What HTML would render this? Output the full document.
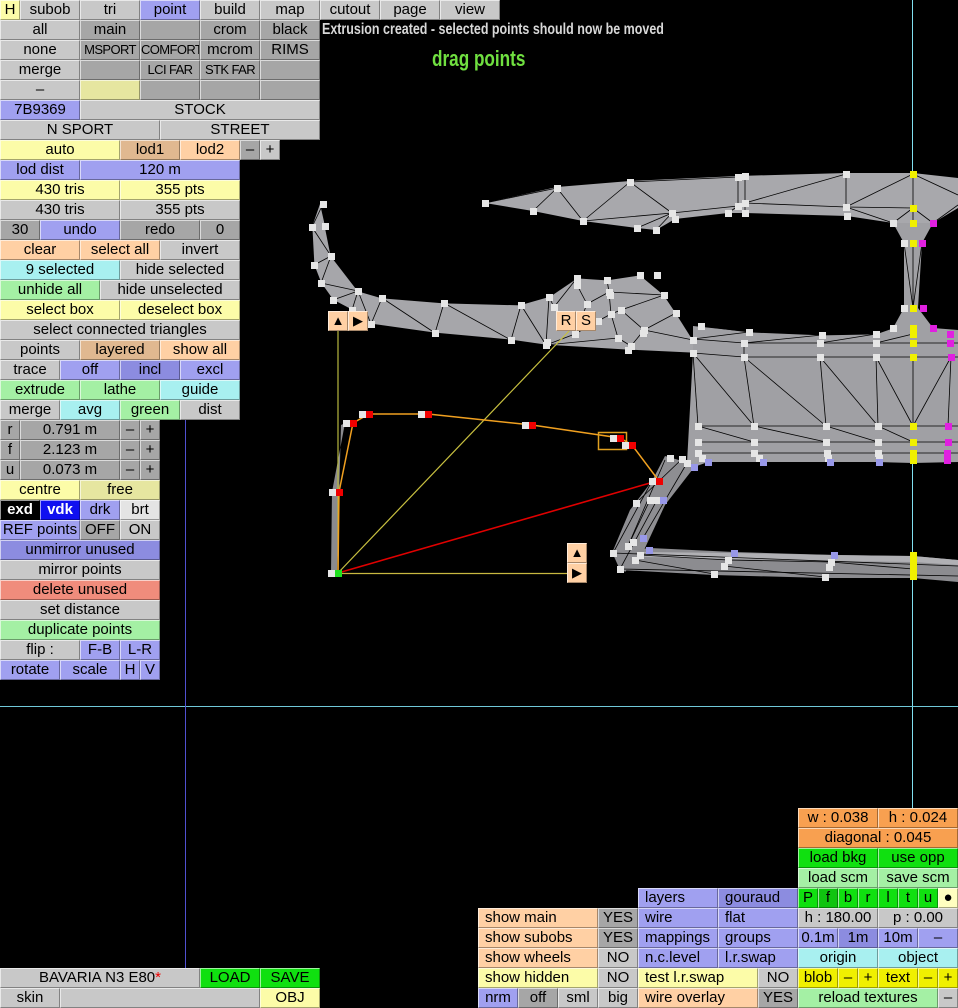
<!DOCTYPE html>
<html><head><meta charset="utf-8">
<style>
html,body{margin:0;padding:0;background:#000;}
body{width:958px;height:1008px;position:relative;overflow:hidden;font-family:"Liberation Sans",sans-serif;}
.b{position:absolute;height:20px;line-height:18px;text-align:center;box-sizing:border-box;border-top:1px solid rgba(255,255,255,.6);border-left:1px solid rgba(255,255,255,.6);border-right:1px solid rgba(0,0,0,.35);border-bottom:1px solid rgba(0,0,0,.35);font-size:15px;color:#000;white-space:nowrap;overflow:hidden;}
.n{font-size:13px;letter-spacing:-0.6px;}
.l{text-align:left;padding-left:6px;}
.g{background:#c8c8c8}.d{background:#a6a6a6}.u{background:#a0a0f0}.u2{background:#8c8ce0}
.y{background:#fcfca8}.y2{background:#e6e6a0}.p{background:#ffd0a4}.p2{background:#e0b890}
.gr{background:#a4f0a4}.c{background:#a8f0f0}.s{background:#f08c7c}.bg{background:#10e010}.bg2{background:#10c410}
.o{background:#f8a050}.by{background:#f0f000}.w{background:#e4e4e4}
svg{position:absolute;left:0;top:0}
</style></head><body>
<svg width="958" height="1008" viewBox="0 0 958 1008">
<line x1="912.5" y1="0" x2="912.5" y2="808" stroke="#80e0f0" stroke-width="1"/>
<line x1="0" y1="706.5" x2="958" y2="706.5" stroke="#70c8d8" stroke-width="1"/>
<line x1="185.5" y1="420" x2="185.5" y2="968" stroke="#5050d0" stroke-width="1"/>
<!-- top strip -->
<polygon fill="#a8a8ac" points="485,203 557,187 630,181 738,176 846,173 913,173 958,178 958,208 933,223 913,223 893,223 847,216 745,213 728,213 675,219 656,230 637,228 583,221 533,211"/>
<g stroke="#000" stroke-width="0.8" fill="none">
<line x1="485" y1="203" x2="557" y2="188"/><line x1="557" y1="188" x2="533" y2="211"/><line x1="557" y1="188" x2="583" y2="221"/>
<line x1="583" y1="221" x2="630" y2="182"/><line x1="630" y1="182" x2="672" y2="213"/><line x1="630" y1="182" x2="738" y2="177"/>
<line x1="672" y1="213" x2="738" y2="206"/><line x1="672" y1="213" x2="637" y2="228"/><line x1="672" y1="213" x2="656" y2="230"/>
<line x1="672" y1="213" x2="583" y2="221"/><line x1="738" y1="177" x2="738" y2="206"/><line x1="745" y1="176" x2="745" y2="213"/>
<line x1="745" y1="203" x2="846" y2="174"/><line x1="745" y1="203" x2="846" y2="207"/><line x1="846" y1="174" x2="846" y2="207"/>
<line x1="846" y1="207" x2="913" y2="174"/><line x1="846" y1="207" x2="913" y2="208"/><line x1="913" y1="174" x2="913" y2="243"/>
<line x1="913" y1="174" x2="958" y2="195"/><line x1="913" y1="208" x2="893" y2="223"/><line x1="913" y1="208" x2="933" y2="223"/>
<line x1="846" y1="207" x2="893" y2="223"/><line x1="738" y1="206" x2="728" y2="213"/><line x1="933" y1="223" x2="958" y2="205"/>
</g>
<!-- pillar -->
<polygon fill="#a0a0a4" points="893,223 933,223 922,243 918,308 933,328 893,328 904,308 904,243"/>
<g stroke="#000" stroke-width="0.8"><line x1="913" y1="243" x2="913" y2="308"/><line x1="904" y1="243" x2="913" y2="308"/><line x1="922" y1="243" x2="913" y2="308"/></g>
<!-- middle strip -->
<polygon fill="#a6a6aa" points="320,204 325,226 331,256 358,291 382,298 444,303 521,305 549,297 577,278 607,280 640,275 664,295 676,313 693,340 693,353 628,350 546,345 511,340 435,333 371,324 352,310 333,300 321,283 314,265 312,227"/>
<!-- block -->
<polygon fill="#a0a0a4" points="693,326 749,332 822,335 876,334 893,328 933,328 958,330 958,462 913,463 878,462 830,462 763,462 708,462 694,467 687,463 693,353"/>
<!-- connector -->
<polygon fill="#8e8e92" points="665,456 696,465 665,505 645,548 625,572 612,553 630,510 652,481"/>
<!-- lower strip -->
<polygon fill="#8c8c90" points="612,552 650,548 734,552 834,555 913,556 958,560 958,582 913,578 825,578 714,575 620,570"/>
<polygon fill="#b0b0b4" points="640,552 734,553 834,555 913,556 958,560 958,565 913,562 834,561 734,559 645,557"/>
<!-- extrusion sliver -->
<polygon fill="#8a8a8e" points="331,573 337,573 341,425 352,420 345,423 332,492"/>
<g stroke="#000" stroke-width="0.8" fill="none">
<line x1="323" y1="204" x2="312" y2="227"/><line x1="323" y1="204" x2="325" y2="226"/><line x1="312" y1="227" x2="331" y2="256"/>
<line x1="325" y1="226" x2="331" y2="256"/><line x1="312" y1="227" x2="314" y2="265"/><line x1="314" y1="265" x2="331" y2="256"/>
<line x1="314" y1="265" x2="321" y2="283"/><line x1="321" y1="283" x2="331" y2="256"/><line x1="321" y1="283" x2="358" y2="291"/>
<line x1="331" y1="256" x2="358" y2="291"/><line x1="321" y1="283" x2="333" y2="300"/><line x1="333" y1="300" x2="358" y2="291"/>
<line x1="333" y1="300" x2="352" y2="310"/><line x1="352" y1="310" x2="358" y2="291"/><line x1="358" y1="291" x2="382" y2="298"/>
<line x1="358" y1="291" x2="371" y2="324"/><line x1="382" y1="298" x2="371" y2="324"/><line x1="382" y1="298" x2="435" y2="333"/>
<line x1="382" y1="298" x2="444" y2="303"/><line x1="444" y1="303" x2="435" y2="333"/><line x1="444" y1="303" x2="511" y2="340"/>
<line x1="444" y1="303" x2="521" y2="305"/><line x1="521" y1="305" x2="511" y2="340"/><line x1="521" y1="305" x2="546" y2="345"/>
<line x1="549" y1="297" x2="546" y2="345"/><line x1="549" y1="297" x2="577" y2="278"/><line x1="549" y1="297" x2="554" y2="307"/>
<line x1="577" y1="278" x2="554" y2="307"/><line x1="577" y1="285" x2="587" y2="304"/><line x1="577" y1="278" x2="607" y2="280"/>
<line x1="607" y1="280" x2="609" y2="292"/><line x1="609" y1="292" x2="587" y2="304"/><line x1="609" y1="292" x2="611" y2="314"/>
<line x1="640" y1="275" x2="664" y2="295"/><line x1="607" y1="280" x2="640" y2="275"/><line x1="609" y1="292" x2="664" y2="295"/>
<line x1="664" y1="295" x2="621" y2="310"/><line x1="664" y1="295" x2="676" y2="313"/><line x1="621" y1="310" x2="644" y2="330"/>
<line x1="611" y1="314" x2="598" y2="321"/><line x1="598" y1="321" x2="575" y2="334"/><line x1="575" y1="334" x2="546" y2="345"/>
<line x1="611" y1="314" x2="618" y2="338"/><line x1="644" y1="330" x2="676" y2="313"/><line x1="644" y1="330" x2="693" y2="340"/>
<line x1="676" y1="313" x2="693" y2="340"/><line x1="618" y1="338" x2="631" y2="346"/><line x1="631" y1="346" x2="644" y2="330"/>
<line x1="371" y1="324" x2="435" y2="333"/><line x1="435" y1="333" x2="511" y2="340"/><line x1="511" y1="340" x2="546" y2="345"/>
<line x1="546" y1="345" x2="628" y2="350"/><line x1="628" y1="350" x2="693" y2="353"/><line x1="621" y1="310" x2="611" y2="314"/>
<line x1="554" y1="307" x2="575" y2="334"/><line x1="587" y1="304" x2="575" y2="334"/><line x1="618" y1="338" x2="546" y2="345"/>
<polyline points="701,326 749,332 822,335 876,334 893,328"/>
<line x1="693" y1="339" x2="749" y2="332"/><line x1="744" y1="343" x2="822" y2="335"/><line x1="820" y1="343" x2="876" y2="334"/><line x1="876" y1="343" x2="913" y2="334"/>
<polyline points="693,339 744,343 820,343 876,343 913,343 950,343 958,343"/>
<polyline points="693,353 744,357 820,357 876,357 913,357 951,357 958,357"/>
<polyline points="698,426 754,426 826,426 878,426 913,426 948,426 958,426"/>
<polyline points="698,442 754,442 826,442 878,442 913,442 948,442 958,442"/>
<polyline points="698,453 754,453 827,453 878,453 913,453 947,453 958,453"/>
<line x1="744" y1="357" x2="754" y2="426"/><line x1="820" y1="357" x2="826" y2="426"/><line x1="876" y1="357" x2="878" y2="426"/>
<line x1="913" y1="357" x2="913" y2="426"/><line x1="951" y1="357" x2="948" y2="426"/><line x1="693" y1="353" x2="698" y2="426"/>
<line x1="693" y1="353" x2="754" y2="426"/><line x1="744" y1="357" x2="826" y2="426"/><line x1="820" y1="357" x2="878" y2="426"/>
<line x1="876" y1="357" x2="913" y2="426"/><line x1="951" y1="357" x2="913" y2="426"/><line x1="744" y1="343" x2="744" y2="357"/>
<line x1="698" y1="426" x2="754" y2="442"/><line x1="754" y1="426" x2="826" y2="442"/><line x1="826" y1="426" x2="878" y2="442"/><line x1="878" y1="426" x2="913" y2="442"/>
<line x1="665" y1="460" x2="628" y2="546"/><line x1="682" y1="459" x2="636" y2="503"/><line x1="687" y1="463" x2="643" y2="538"/>
<line x1="652" y1="481" x2="613" y2="553"/><line x1="657" y1="500" x2="620" y2="569"/><line x1="650" y1="500" x2="628" y2="546"/>
<line x1="613" y1="553" x2="958" y2="566"/><line x1="620" y1="569" x2="958" y2="576"/><line x1="640" y1="555" x2="728" y2="560"/><line x1="635" y1="560" x2="714" y2="574"/>
<line x1="728" y1="560" x2="831" y2="562"/><line x1="724" y1="566" x2="825" y2="577"/><line x1="831" y1="562" x2="913" y2="569"/>
</g>
<!-- extrusion lines -->
<line x1="338" y1="330" x2="338" y2="573" stroke="#b8b840" stroke-width="1.2"/>
<line x1="338" y1="573" x2="570" y2="330" stroke="#c8c040" stroke-width="1.2"/>
<line x1="338" y1="573.5" x2="567" y2="573.5" stroke="#c8b840" stroke-width="1.2"/>
<line x1="338" y1="573" x2="657" y2="481" stroke="#e00000" stroke-width="1.6"/>
<polyline points="338,572 339,492 353,423 369,414 428,414 532,425 620,438 632,445 659,481" fill="none" stroke="#f0a020" stroke-width="1.5"/>
<rect x="598.5" y="432.5" width="28" height="17" fill="none" stroke="#e0a020" stroke-width="1.5"/>
<!-- white points -->
<g fill="#e6e6e6">
<rect x="482" y="200" width="7" height="7"/><rect x="554" y="185" width="7" height="7"/><rect x="627" y="179" width="7" height="7"/><rect x="530" y="208" width="7" height="7"/>
<rect x="580" y="218" width="7" height="7"/><rect x="634" y="225" width="7" height="7"/><rect x="653" y="227" width="7" height="7"/><rect x="669" y="210" width="7" height="7"/>
<rect x="672" y="216" width="7" height="7"/><rect x="735" y="174" width="7" height="7"/><rect x="742" y="173" width="7" height="7"/><rect x="735" y="203" width="7" height="7"/>
<rect x="742" y="200" width="7" height="7"/><rect x="725" y="210" width="7" height="7"/><rect x="742" y="210" width="7" height="7"/><rect x="843" y="171" width="7" height="7"/>
<rect x="843" y="204" width="7" height="7"/><rect x="844" y="213" width="7" height="7"/><rect x="890" y="220" width="7" height="7"/><rect x="901" y="240" width="7" height="7"/>
<rect x="320" y="201" width="7" height="7"/><rect x="309" y="224" width="7" height="7"/><rect x="322" y="223" width="7" height="7"/><rect x="328" y="253" width="7" height="7"/>
<rect x="311" y="262" width="7" height="7"/><rect x="318" y="280" width="7" height="7"/><rect x="330" y="297" width="7" height="7"/><rect x="355" y="288" width="7" height="7"/>
<rect x="379" y="295" width="7" height="7"/><rect x="441" y="300" width="7" height="7"/><rect x="518" y="302" width="7" height="7"/><rect x="546" y="294" width="7" height="7"/>
<rect x="574" y="275" width="7" height="7"/><rect x="574" y="282" width="7" height="7"/><rect x="604" y="277" width="7" height="7"/><rect x="637" y="272" width="7" height="7"/>
<rect x="654" y="272" width="7" height="7"/><rect x="606" y="289" width="7" height="7"/><rect x="607" y="292" width="7" height="7"/><rect x="661" y="292" width="7" height="7"/>
<rect x="551" y="304" width="7" height="7"/><rect x="584" y="301" width="7" height="7"/><rect x="608" y="311" width="7" height="7"/><rect x="618" y="307" width="7" height="7"/>
<rect x="673" y="310" width="7" height="7"/><rect x="595" y="318" width="7" height="7"/><rect x="641" y="327" width="7" height="7"/><rect x="640" y="330" width="7" height="7"/>
<rect x="615" y="335" width="7" height="7"/><rect x="628" y="343" width="7" height="7"/><rect x="625" y="347" width="7" height="7"/><rect x="690" y="337" width="7" height="7"/>
<rect x="690" y="350" width="7" height="7"/><rect x="572" y="331" width="7" height="7"/><rect x="544" y="339" width="7" height="7"/><rect x="543" y="342" width="7" height="7"/>
<rect x="508" y="337" width="7" height="7"/><rect x="432" y="330" width="7" height="7"/><rect x="368" y="321" width="7" height="7"/><rect x="349" y="307" width="7" height="7"/>
<rect x="698" y="323" width="7" height="7"/><rect x="746" y="329" width="7" height="7"/><rect x="741" y="340" width="7" height="7"/><rect x="741" y="354" width="7" height="7"/>
<rect x="819" y="332" width="7" height="7"/><rect x="817" y="340" width="7" height="7"/><rect x="817" y="354" width="7" height="7"/><rect x="873" y="331" width="7" height="7"/>
<rect x="873" y="340" width="7" height="7"/><rect x="873" y="354" width="7" height="7"/><rect x="901" y="305" width="7" height="7"/><rect x="890" y="325" width="7" height="7"/>
<rect x="695" y="423" width="7" height="7"/><rect x="751" y="423" width="7" height="7"/><rect x="823" y="423" width="7" height="7"/><rect x="875" y="423" width="7" height="7"/>
<rect x="695" y="439" width="7" height="7"/><rect x="751" y="439" width="7" height="7"/><rect x="823" y="439" width="7" height="7"/><rect x="875" y="439" width="7" height="7"/>
<rect x="695" y="450" width="7" height="7"/><rect x="751" y="450" width="7" height="7"/><rect x="756" y="455" width="7" height="7"/><rect x="824" y="450" width="7" height="7"/>
<rect x="825" y="455" width="7" height="7"/><rect x="875" y="450" width="7" height="7"/><rect x="876" y="455" width="7" height="7"/><rect x="667" y="455" width="7" height="7"/>
<rect x="679" y="456" width="7" height="7"/><rect x="684" y="460" width="7" height="7"/><rect x="699" y="455" width="7" height="7"/>
<rect x="649" y="478" width="7" height="7"/><rect x="633" y="500" width="7" height="7"/><rect x="647" y="497" width="7" height="7"/><rect x="654" y="497" width="7" height="7"/>
<rect x="625" y="543" width="7" height="7"/><rect x="630" y="539" width="7" height="7"/><rect x="610" y="550" width="7" height="7"/><rect x="637" y="552" width="7" height="7"/>
<rect x="632" y="557" width="7" height="7"/><rect x="617" y="566" width="7" height="7"/><rect x="725" y="557" width="7" height="7"/><rect x="721" y="563" width="7" height="7"/>
<rect x="711" y="571" width="7" height="7"/><rect x="828" y="559" width="7" height="7"/><rect x="826" y="564" width="7" height="7"/><rect x="822" y="574" width="7" height="7"/>
<rect x="328" y="570" width="7" height="7"/><rect x="329" y="489" width="7" height="7"/><rect x="343" y="420" width="7" height="7"/><rect x="359" y="411" width="7" height="7"/>
<rect x="418" y="411" width="7" height="7"/><rect x="522" y="422" width="7" height="7"/><rect x="610" y="435" width="7" height="7"/><rect x="622" y="442" width="7" height="7"/>
</g>
<g fill="#9898e8">
<rect x="691" y="464" width="7" height="7"/><rect x="705" y="459" width="7" height="7"/><rect x="760" y="459" width="7" height="7"/><rect x="827" y="459" width="7" height="7"/>
<rect x="876" y="459" width="7" height="7"/><rect x="660" y="497" width="7" height="7"/><rect x="640" y="535" width="7" height="7"/><rect x="646" y="547" width="7" height="7"/>
<rect x="731" y="550" width="7" height="7"/><rect x="831" y="552" width="7" height="7"/>
</g>
<g fill="#f0f000">
<rect x="910" y="171" width="7" height="7"/><rect x="910" y="205" width="7" height="7"/><rect x="910" y="220" width="7" height="7"/><rect x="910" y="240" width="7" height="7"/>
<rect x="910" y="305" width="7" height="7"/><rect x="910" y="325" width="7" height="7"/><rect x="910" y="331" width="7" height="7"/><rect x="910" y="340" width="7" height="7"/>
<rect x="910" y="354" width="7" height="7"/><rect x="910" y="423" width="7" height="7"/><rect x="910" y="439" width="7" height="7"/><rect x="910" y="450" width="7" height="14"/>
<rect x="910" y="552" width="7" height="28"/>
</g>
<g fill="#e020e0">
<rect x="930" y="220" width="7" height="7"/><rect x="919" y="240" width="7" height="7"/><rect x="920" y="305" width="7" height="7"/><rect x="930" y="325" width="7" height="7"/>
<rect x="947" y="331" width="7" height="7"/><rect x="947" y="340" width="7" height="7"/><rect x="948" y="354" width="7" height="7"/><rect x="945" y="423" width="7" height="7"/>
<rect x="945" y="439" width="7" height="7"/><rect x="944" y="450" width="7" height="14"/>
</g>
<g fill="#f00000">
<rect x="336" y="489" width="7" height="7"/><rect x="350" y="420" width="7" height="7"/><rect x="366" y="411" width="7" height="7"/><rect x="425" y="411" width="7" height="7"/>
<rect x="529" y="422" width="7" height="7"/><rect x="617" y="435" width="7" height="7"/><rect x="629" y="442" width="7" height="7"/><rect x="656" y="478" width="7" height="7"/>
</g>
<rect x="335" y="570" width="7" height="7" fill="#20e020"/>
</svg>

<div style="position:absolute;left:322px;top:21px;color:#d8d8d8;font:bold 16px 'Liberation Sans',sans-serif;white-space:nowrap;transform:scaleX(0.78);transform-origin:0 0;">Extrusion created - selected points should now be moved</div>
<div style="position:absolute;left:432px;top:46px;color:#70e040;font:bold 22px 'Liberation Sans',sans-serif;white-space:nowrap;transform:scaleX(0.78);transform-origin:0 0;">drag points</div>

<!-- mesh buttons -->
<div class="b p" style="left:328px;top:311px;width:20px;font-size:13px">▲</div>
<div class="b p" style="left:348px;top:311px;width:20px;font-size:13px">▶</div>
<div class="b p" style="left:556px;top:311px;width:20px">R</div>
<div class="b p" style="left:576px;top:311px;width:20px">S</div>
<div class="b p" style="left:567px;top:543px;width:20px;font-size:13px">▲</div>
<div class="b p" style="left:567px;top:563px;width:20px;font-size:13px">▶</div>

<!-- top menu -->
<div class="b y" style="left:0;top:0;width:20px">H</div>
<div class="b g" style="left:20px;top:0;width:60px">subob</div>
<div class="b g" style="left:80px;top:0;width:60px">tri</div>
<div class="b u" style="left:140px;top:0;width:60px">point</div>
<div class="b g" style="left:200px;top:0;width:60px">build</div>
<div class="b g" style="left:260px;top:0;width:60px">map</div>
<div class="b g" style="left:320px;top:0;width:60px">cutout</div>
<div class="b g" style="left:380px;top:0;width:60px">page</div>
<div class="b g" style="left:440px;top:0;width:60px">view</div>

<div class="b g" style="left:0;top:20px;width:80px">all</div>
<div class="b d" style="left:80px;top:20px;width:60px">main</div>
<div class="b d" style="left:140px;top:20px;width:60px"></div>
<div class="b d" style="left:200px;top:20px;width:60px">crom</div>
<div class="b d" style="left:260px;top:20px;width:60px">black</div>

<div class="b g" style="left:0;top:40px;width:80px">none</div>
<div class="b d n" style="left:80px;top:40px;width:60px">MSPORT</div>
<div class="b d n" style="left:140px;top:40px;width:60px">COMFORT</div>
<div class="b d" style="left:200px;top:40px;width:60px">mcrom</div>
<div class="b d" style="left:260px;top:40px;width:60px">RIMS</div>

<div class="b g" style="left:0;top:60px;width:80px">merge</div>
<div class="b d" style="left:80px;top:60px;width:60px"></div>
<div class="b d n" style="left:140px;top:60px;width:60px">LCI FAR</div>
<div class="b d n" style="left:200px;top:60px;width:60px">STK FAR</div>
<div class="b d" style="left:260px;top:60px;width:60px"></div>

<div class="b g" style="left:0;top:80px;width:80px">–</div>
<div class="b y2" style="left:80px;top:80px;width:60px"></div>
<div class="b d" style="left:140px;top:80px;width:60px"></div>
<div class="b d" style="left:200px;top:80px;width:60px"></div>
<div class="b d" style="left:260px;top:80px;width:60px"></div>

<div class="b u" style="left:0;top:100px;width:80px">7B9369</div>
<div class="b g" style="left:80px;top:100px;width:240px">STOCK</div>
<div class="b g" style="left:0;top:120px;width:160px">N SPORT</div>
<div class="b g" style="left:160px;top:120px;width:160px">STREET</div>

<div class="b y" style="left:0;top:140px;width:120px">auto</div>
<div class="b p2" style="left:120px;top:140px;width:60px">lod1</div>
<div class="b p" style="left:180px;top:140px;width:60px">lod2</div>
<div class="b d" style="left:240px;top:140px;width:20px">–</div>
<div class="b g" style="left:260px;top:140px;width:20px">+</div>

<div class="b u" style="left:0;top:160px;width:80px">lod dist</div>
<div class="b u" style="left:80px;top:160px;width:160px">120 m</div>
<div class="b y" style="left:0;top:180px;width:120px">430 tris</div>
<div class="b y" style="left:120px;top:180px;width:120px">355 pts</div>
<div class="b g" style="left:0;top:200px;width:120px">430 tris</div>
<div class="b g" style="left:120px;top:200px;width:120px">355 pts</div>
<div class="b d" style="left:0;top:220px;width:40px">30</div>
<div class="b u" style="left:40px;top:220px;width:80px">undo</div>
<div class="b d" style="left:120px;top:220px;width:80px">redo</div>
<div class="b d" style="left:200px;top:220px;width:40px">0</div>
<div class="b p" style="left:0;top:240px;width:80px">clear</div>
<div class="b p" style="left:80px;top:240px;width:80px">select all</div>
<div class="b g" style="left:160px;top:240px;width:80px">invert</div>
<div class="b c" style="left:0;top:260px;width:120px">9 selected</div>
<div class="b g" style="left:120px;top:260px;width:120px">hide selected</div>
<div class="b gr" style="left:0;top:280px;width:100px">unhide all</div>
<div class="b g" style="left:100px;top:280px;width:140px">hide unselected</div>
<div class="b y" style="left:0;top:300px;width:120px">select box</div>
<div class="b y" style="left:120px;top:300px;width:120px">deselect box</div>
<div class="b g" style="left:0;top:320px;width:240px">select connected triangles</div>
<div class="b g" style="left:0;top:340px;width:80px">points</div>
<div class="b p2" style="left:80px;top:340px;width:80px">layered</div>
<div class="b p" style="left:160px;top:340px;width:80px">show all</div>
<div class="b g" style="left:0;top:360px;width:60px">trace</div>
<div class="b u" style="left:60px;top:360px;width:60px">off</div>
<div class="b u2" style="left:120px;top:360px;width:60px">incl</div>
<div class="b u" style="left:180px;top:360px;width:60px">excl</div>
<div class="b gr" style="left:0;top:380px;width:80px">extrude</div>
<div class="b gr" style="left:80px;top:380px;width:80px">lathe</div>
<div class="b c" style="left:160px;top:380px;width:80px">guide</div>
<div class="b g" style="left:0;top:400px;width:60px">merge</div>
<div class="b c" style="left:60px;top:400px;width:60px">avg</div>
<div class="b gr" style="left:120px;top:400px;width:60px">green</div>
<div class="b g" style="left:180px;top:400px;width:60px">dist</div>

<div class="b d" style="left:0;top:420px;width:20px">r</div>
<div class="b d" style="left:20px;top:420px;width:100px">0.791 m</div>
<div class="b d" style="left:120px;top:420px;width:20px">–</div>
<div class="b d" style="left:140px;top:420px;width:20px">+</div>
<div class="b d" style="left:0;top:440px;width:20px">f</div>
<div class="b d" style="left:20px;top:440px;width:100px">2.123 m</div>
<div class="b d" style="left:120px;top:440px;width:20px">–</div>
<div class="b d" style="left:140px;top:440px;width:20px">+</div>
<div class="b d" style="left:0;top:460px;width:20px">u</div>
<div class="b d" style="left:20px;top:460px;width:100px">0.073 m</div>
<div class="b d" style="left:120px;top:460px;width:20px">–</div>
<div class="b d" style="left:140px;top:460px;width:20px">+</div>
<div class="b y" style="left:0;top:480px;width:80px">centre</div>
<div class="b y2" style="left:80px;top:480px;width:80px">free</div>
<div class="b" style="left:0;top:500px;width:40px;background:#000;color:#fff;font-weight:bold">exd</div>
<div class="b" style="left:40px;top:500px;width:40px;background:#1010f0;color:#fff;font-weight:bold">vdk</div>
<div class="b u" style="left:80px;top:500px;width:40px">drk</div>
<div class="b w" style="left:120px;top:500px;width:40px">brt</div>
<div class="b u" style="left:0;top:520px;width:80px">REF points</div>
<div class="b d" style="left:80px;top:520px;width:40px">OFF</div>
<div class="b g" style="left:120px;top:520px;width:40px">ON</div>
<div class="b u2" style="left:0;top:540px;width:160px">unmirror unused</div>
<div class="b g" style="left:0;top:560px;width:160px">mirror points</div>
<div class="b s" style="left:0;top:580px;width:160px">delete unused</div>
<div class="b g" style="left:0;top:600px;width:160px">set distance</div>
<div class="b gr" style="left:0;top:620px;width:160px">duplicate points</div>
<div class="b g" style="left:0;top:640px;width:80px">flip :</div>
<div class="b u" style="left:80px;top:640px;width:40px">F-B</div>
<div class="b u" style="left:120px;top:640px;width:40px">L-R</div>
<div class="b u" style="left:0;top:660px;width:60px">rotate</div>
<div class="b u" style="left:60px;top:660px;width:60px">scale</div>
<div class="b u" style="left:120px;top:660px;width:20px">H</div>
<div class="b u" style="left:140px;top:660px;width:20px">V</div>

<!-- bottom left -->
<div class="b g" style="left:0;top:968px;width:200px">BAVARIA N3 E80<span style="color:#f00000">*</span></div>
<div class="b bg" style="left:200px;top:968px;width:60px">LOAD</div>
<div class="b bg" style="left:260px;top:968px;width:60px">SAVE</div>
<div class="b g" style="left:0;top:988px;width:60px">skin</div>
<div class="b g" style="left:60px;top:988px;width:200px"></div>
<div class="b y" style="left:260px;top:988px;width:60px">OBJ</div>

<!-- bottom right -->
<div class="b o" style="left:798px;top:808px;width:80px">w : 0.038</div>
<div class="b o" style="left:878px;top:808px;width:80px">h : 0.024</div>
<div class="b o" style="left:798px;top:828px;width:160px">diagonal : 0.045</div>
<div class="b bg" style="left:798px;top:848px;width:80px">load bkg</div>
<div class="b bg" style="left:878px;top:848px;width:80px">use opp</div>
<div class="b gr" style="left:798px;top:868px;width:80px">load scm</div>
<div class="b gr" style="left:878px;top:868px;width:80px">save scm</div>

<div class="b u l" style="left:638px;top:888px;width:80px">layers</div>
<div class="b u2 l" style="left:718px;top:888px;width:80px">gouraud</div>
<div class="b bg" style="left:798px;top:888px;width:20px">P</div>
<div class="b bg2" style="left:818px;top:888px;width:20px">f</div>
<div class="b bg" style="left:838px;top:888px;width:20px">b</div>
<div class="b bg" style="left:858px;top:888px;width:20px">r</div>
<div class="b bg" style="left:878px;top:888px;width:20px">l</div>
<div class="b bg" style="left:898px;top:888px;width:20px">t</div>
<div class="b bg" style="left:918px;top:888px;width:20px">u</div>
<div class="b" style="left:938px;top:888px;width:20px;background:#ffffc0">●</div>

<div class="b p l" style="left:478px;top:908px;width:120px">show main</div>
<div class="b d" style="left:598px;top:908px;width:40px">YES</div>
<div class="b u l" style="left:638px;top:908px;width:80px">wire</div>
<div class="b u l" style="left:718px;top:908px;width:80px">flat</div>
<div class="b g" style="left:798px;top:908px;width:80px">h : 180.00</div>
<div class="b g" style="left:878px;top:908px;width:80px">p : 0.00</div>

<div class="b p l" style="left:478px;top:928px;width:120px">show subobs</div>
<div class="b d" style="left:598px;top:928px;width:40px">YES</div>
<div class="b u l" style="left:638px;top:928px;width:80px">mappings</div>
<div class="b u l" style="left:718px;top:928px;width:80px">groups</div>
<div class="b u" style="left:798px;top:928px;width:40px">0.1m</div>
<div class="b u2" style="left:838px;top:928px;width:40px">1m</div>
<div class="b u" style="left:878px;top:928px;width:40px">10m</div>
<div class="b u" style="left:918px;top:928px;width:40px">–</div>

<div class="b p l" style="left:478px;top:948px;width:120px">show wheels</div>
<div class="b g" style="left:598px;top:948px;width:40px">NO</div>
<div class="b u l" style="left:638px;top:948px;width:80px">n.c.level</div>
<div class="b u l" style="left:718px;top:948px;width:80px">l.r.swap</div>
<div class="b c" style="left:798px;top:948px;width:80px">origin</div>
<div class="b c" style="left:878px;top:948px;width:80px">object</div>

<div class="b y l" style="left:478px;top:968px;width:120px">show hidden</div>
<div class="b g" style="left:598px;top:968px;width:40px">NO</div>
<div class="b y l" style="left:638px;top:968px;width:120px">test l.r.swap</div>
<div class="b g" style="left:758px;top:968px;width:40px">NO</div>
<div class="b by" style="left:798px;top:968px;width:40px">blob</div>
<div class="b by" style="left:838px;top:968px;width:20px">–</div>
<div class="b by" style="left:858px;top:968px;width:20px">+</div>
<div class="b by" style="left:878px;top:968px;width:40px">text</div>
<div class="b by" style="left:918px;top:968px;width:20px">–</div>
<div class="b by" style="left:938px;top:968px;width:20px">+</div>

<div class="b u" style="left:478px;top:988px;width:40px">nrm</div>
<div class="b d" style="left:518px;top:988px;width:40px">off</div>
<div class="b g" style="left:558px;top:988px;width:40px">sml</div>
<div class="b g" style="left:598px;top:988px;width:40px">big</div>
<div class="b p l" style="left:638px;top:988px;width:120px">wire overlay</div>
<div class="b d" style="left:758px;top:988px;width:40px">YES</div>
<div class="b gr" style="left:798px;top:988px;width:140px">reload textures</div>
<div class="b g" style="left:938px;top:988px;width:20px">–</div>
</body></html>
